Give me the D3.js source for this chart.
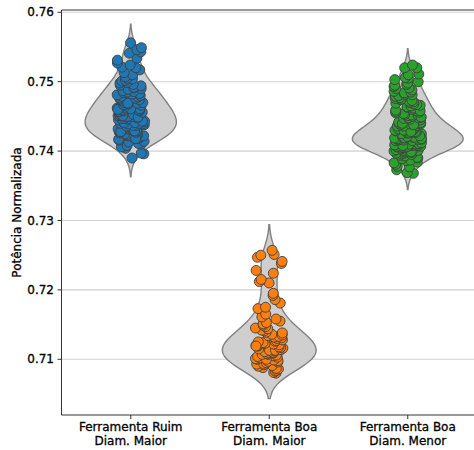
<!DOCTYPE html>
<html><head><meta charset="utf-8">
<script src="https://cdn.jsdelivr.net/npm/d3@7"></script>
<style>body{margin:0;background:#fff} text{font-family:"DejaVu Sans",sans-serif}</style>
</head><body><svg id="c" width="474" height="450"></svg>
<script>
const categories = [["Ferramenta Ruim", "Diam. Maior"], ["Ferramenta Boa", "Diam. Maior"], ["Ferramenta Boa", "Diam. Menor"]];
const ruimMaior = [
0.7390,0.7396,0.7397,
0.7404,0.7406,0.7408,0.7410,0.7411,0.7413,0.7414,
0.7416,0.7417,0.7418,0.7419,0.7420,0.7420,0.7421,0.7422,0.7422,0.7423,0.7424,0.7424,0.7425,0.7418,
0.7426,0.7427,0.7428,0.7429,0.7430,0.7430,0.7431,0.7431,0.7432,0.7433,0.7433,0.7434,0.7435,0.7428,0.7429,
0.7436,0.7437,0.7437,0.7438,0.7439,0.7439,0.7440,0.7440,0.7441,0.7442,0.7442,0.7443,0.7443,0.7444,0.7445,0.7441,
0.7446,0.7447,0.7447,0.7448,0.7449,0.7450,0.7450,0.7451,0.7452,0.7452,0.7453,0.7454,0.7455,0.7449,0.7451,
0.7456,0.7457,0.7458,0.7458,0.7459,0.7460,0.7461,0.7461,0.7462,0.7463,0.7464,0.7465,0.7460,
0.7466,0.7467,0.7468,0.7469,0.7470,0.7470,0.7471,0.7472,0.7473,0.7474,0.7475,0.7469,
0.7476,0.7477,0.7478,0.7479,0.7480,0.7481,0.7482,0.7483,0.7484,0.7485,
0.7486,0.7487,0.7489,0.7490,0.7491,0.7492,0.7494,0.7495,
0.7496,0.7498,0.7499,0.7501,0.7502,0.7504,0.7505,
0.7507,0.7510,0.7513,0.7517,
0.7520,0.7521,0.7524,
0.7527,0.7531,0.7534,0.7541,0.7543,0.7546,0.7549,0.7556];
const boaMaior = [
0.7080,0.7081,0.7083,0.7084,0.7086,
0.7087,0.7088,0.7090,0.7091,0.7092,0.7093,0.7094,0.7095,
0.7096,0.7097,0.7098,0.7099,0.7100,0.7101,0.7102,0.7103,0.7104,0.7105,0.7100,
0.7106,0.7107,0.7107,0.7108,0.7109,0.7110,0.7110,0.7111,0.7112,0.7113,0.7113,0.7114,0.7115,
0.7116,0.7117,0.7118,0.7119,0.7120,0.7120,0.7121,0.7122,0.7123,0.7124,0.7125,0.7119,
0.7126,0.7127,0.7128,0.7130,0.7131,0.7132,0.7133,0.7134,0.7135,
0.7136,0.7138,0.7139,0.7141,0.7142,0.7144,0.7145,
0.7147,0.7149,0.7151,0.7153,0.7155,
0.7158,0.7161,0.7165,
0.7173,0.7175,0.7181,0.7186,0.7192,0.7195,0.7210,0.7212,0.7215,0.7224,0.7228,0.7238,0.7241,0.7247,0.7250,0.7251,0.7257];
const boaMenor = [
0.7368,0.7369,0.7373,
0.7377,0.7378,0.7381,0.7383,0.7384,
0.7386,0.7387,0.7389,0.7390,0.7391,0.7393,0.7394,
0.7395,0.7396,0.7397,0.7397,0.7398,0.7399,0.7400,0.7400,0.7401,0.7401,0.7402,0.7402,0.7403,0.7403,0.7404,0.7404,0.7399,
0.7405,0.7405,0.7406,0.7406,0.7407,0.7407,0.7408,0.7408,0.7409,0.7409,0.7410,0.7410,0.7410,0.7411,0.7411,0.7412,0.7412,0.7413,0.7413,0.7414,0.7414,0.7409,0.7411,0.7407,0.7412,0.7413,0.7410,0.7408,
0.7415,0.7415,0.7416,0.7416,0.7417,0.7417,0.7417,0.7418,0.7418,0.7418,0.7419,0.7419,0.7420,0.7420,0.7420,0.7421,0.7421,0.7421,0.7422,0.7422,0.7423,0.7423,0.7424,0.7424,0.7425,0.7419,0.7420,0.7421,0.7418,0.7422,
0.7425,0.7426,0.7426,0.7427,0.7427,0.7428,0.7428,0.7429,0.7429,0.7430,0.7430,0.7431,0.7431,0.7432,0.7432,0.7433,0.7433,0.7434,0.7434,0.7435,0.7430,0.7428,
0.7436,0.7436,0.7437,0.7438,0.7439,0.7439,0.7440,0.7440,0.7441,0.7441,0.7442,0.7443,0.7443,0.7444,0.7445,0.7438,0.7440,
0.7446,0.7447,0.7448,0.7448,0.7449,0.7450,0.7451,0.7452,0.7452,0.7453,0.7454,0.7455,0.7449,
0.7456,0.7457,0.7458,0.7459,0.7460,0.7461,0.7462,0.7463,0.7464,0.7465,0.7458,
0.7466,0.7467,0.7468,0.7469,0.7470,0.7471,0.7472,0.7473,0.7474,0.7475,
0.7476,0.7477,0.7479,0.7480,0.7481,0.7482,0.7484,0.7485,
0.7486,0.7488,0.7490,0.7491,0.7493,0.7495,
0.7496,0.7498,0.7500,0.7503,0.7505,
0.7506,0.7510,0.7511,
0.7520,0.7520,0.7524];
const yTicks = [0.71, 0.72, 0.73, 0.74, 0.75, 0.76];
const yTickLabels = ["0.71", "0.72", "0.73", "0.74", "0.75", "0.76"];
const colors = ["#1f77b4", "#ff7f0e", "#2ca02c"];
const yLabel = "Potência Normalizada";
const series = [ruimMaior, boaMaior, boaMenor];

const svg = d3.select("#c");
const L = 61.5, R = 477, T = 10, B = 415;
const x = d3.scalePoint().domain([0,1,2]).range([L, R]).padding(0.5);
const step = x.step();
const y = d3.scaleLinear().domain([0.70197, 0.76033]).range([B, T]);

// grid
svg.append("g").selectAll("line").data(yTicks).join("line")
  .attr("x1", L).attr("x2", 474).attr("y1", d => y(d)).attr("y2", d => y(d))
  .attr("stroke", "#d0d0d0").attr("stroke-width", 1.1);

// KDE (gaussian, Scott bandwidth, cut = 2)
function kde(vals) {
  const n = vals.length, sd = d3.deviation(vals);
  const bw = sd * Math.pow(n, -0.2);
  const lo = d3.min(vals) - 2 * bw, hi = d3.max(vals) + 2 * bw;
  const pts = [];
  for (let i = 0; i < 100; i++) {
    const v = lo + (hi - lo) * i / 99;
    let s = 0;
    for (const xi of vals) { const z = (v - xi) / bw; s += Math.exp(-0.5 * z * z); }
    pts.push({v, d: s / (n * bw * Math.sqrt(2 * Math.PI))});
  }
  return pts;
}
const dens = series.map(kde);
const maxD = d3.max(dens, p => d3.max(p, d => d.d));
const w = d3.scaleLinear().domain([0, maxD]).range([0, 0.4 * step]);

dens.forEach((p, i) => {
  const cx = x(i);
  const area = d3.area().y(d => y(d.v)).x0(d => cx - w(d.d)).x1(d => cx + w(d.d));
  svg.append("path").datum(p).attr("d", area)
    .attr("fill", "#cfcfcf").attr("stroke", "#808080").attr("stroke-width", 1.4);
});

// strip points (jitter ±0.1 category width, deterministic hash)
function hash(k) {
  let t = Math.imul(k ^ 0x9e3779b9, 0x85ebca6b);
  t ^= t >>> 13; t = Math.imul(t, 0xc2b2ae35); t ^= t >>> 16;
  t = Math.imul(t, 0x27d4eb2f); t ^= t >>> 15;
  return (t >>> 0) / 4294967296;
}
series.forEach((vals, i) => {
  const cx = x(i);
  svg.append("g").selectAll("circle").data(vals).join("circle")
    .attr("cx", (d, k) => cx + (hash(k * 7 + i * 1009 + 11) - 0.5) * 0.2 * step)
    .attr("cy", d => y(d)).attr("r", 5)
    .attr("fill", colors[i]).attr("stroke", "#3f3f3f").attr("stroke-width", 0.9);
});

// frame
svg.append("line").attr("x1", L).attr("x2", L).attr("y1", T).attr("y2", B).attr("stroke", "#333").attr("stroke-width", 1);
svg.append("line").attr("x1", L).attr("x2", 474).attr("y1", T).attr("y2", T).attr("stroke", "#333").attr("stroke-width", 1);
svg.append("line").attr("x1", L).attr("x2", 474).attr("y1", B).attr("y2", B).attr("stroke", "#333").attr("stroke-width", 1);

const txt = s => s.attr("font-size", 12).attr("fill", "#000").attr("stroke", "#000").attr("stroke-width", 0.3);
// y axis ticks
const gy = svg.append("g");
yTicks.forEach((t, k) => {
  gy.append("line").attr("x1", L - 4).attr("x2", L).attr("y1", y(t)).attr("y2", y(t)).attr("stroke", "#333");
  gy.append("text").attr("x", L - 7.5).attr("y", y(t)).attr("dy", "0.35em").attr("text-anchor", "end")
    .call(txt).text(yTickLabels[k]);
});
// x axis ticks
categories.forEach((c, i) => {
  svg.append("line").attr("x1", x(i)).attr("x2", x(i)).attr("y1", B).attr("y2", B + 4).attr("stroke", "#333");
  const t = svg.append("text").attr("text-anchor", "middle").call(txt);
  c.forEach((line, j) => t.append("tspan").attr("x", x(i)).attr("y", 431 + j * 14).text(line));
});
svg.append("text").attr("transform", `translate(21,${(T + B) / 2}) rotate(-90)`)
  .attr("text-anchor", "middle").call(txt).text(yLabel);
</script></body></html>
